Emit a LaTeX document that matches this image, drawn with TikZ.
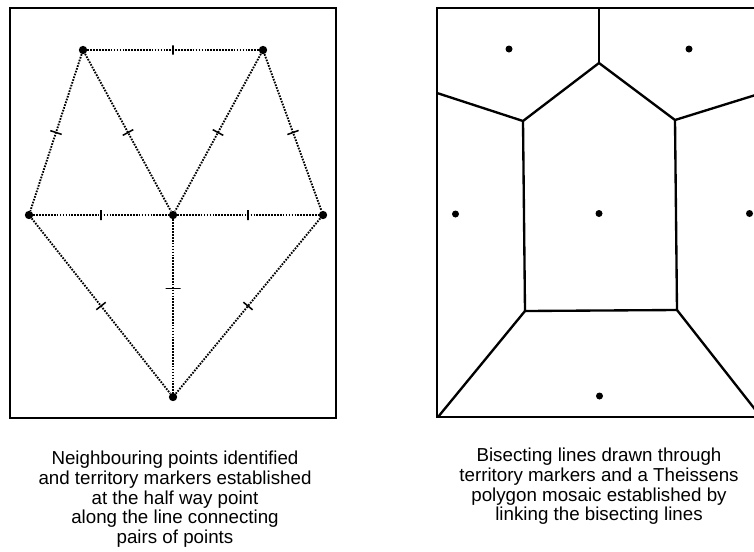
\documentclass[tikz,border=0pt]{standalone}
\usepackage{fontspec}
\setmainfont{Liberation Sans}

\begin{document}
\begin{tikzpicture}[
  x=0.03cm, y=-0.03cm,
  frame/.style={draw, line width=1.4pt},
  pt/.style={circle, fill, inner sep=0pt, minimum size=0.25cm},
  spot/.style={circle, fill, inner sep=0pt, minimum size=0.21cm},
  link/.style={line width=1.6pt, dash pattern=on 1.4pt off 1.1pt},
  tick/.style={sloped, draw, solid, line width=1.3pt, inner sep=0pt, minimum width=0pt, minimum height=0.36cm},
  cell/.style={line width=2pt, line join=round},
  caption/.style={align=center, anchor=north, inner sep=0pt, font=\fontsize{16}{16.8}\selectfont}
]
\clip (0,0) rectangle (754,551);

% left panel: neighbours and territory markers
\draw[frame] (10,8) rectangle (336,418);
\node[pt] (tl) at (83,50) {};
\node[pt] (tr) at (263,50) {};
\node[pt] (ml) at (29,215) {};
\node[pt] (mc) at (173,215) {};
\node[pt] (mr) at (323,215) {};
\node[pt] (bot) at (173,397) {};

\draw[link] (tl) -- node[tick, minimum height=0.28cm] {} (tr);
\draw[link] (tl) -- node[tick] {} (ml);
\draw[link] (tl) -- node[tick] {} (mc);
\draw[link] (tr) -- node[tick] {} (mc);
\draw[link] (tr) -- node[tick] {} (mr);
\draw[link] (ml) -- node[tick, minimum height=0.3cm] {} (mc);
\draw[link] (mc) -- node[tick, minimum height=0.3cm] {} (mr);
\draw[link] (mc) -- node[tick, pos=0.4, minimum height=0.45cm] {} (bot);
\draw[link] (ml) -- node[tick] {} (bot);
\draw[link] (mr) -- node[tick] {} (bot);

\node[caption] (capl) at (175,451) {Neighbouring points identified\\and territory markers established\\at the half way point\\along the line connecting\\pairs of points};

% right panel: Theissens polygon mosaic
\draw[frame] (437,8) rectangle (762,417);
\node[spot] (qtl) at (509,49) {};
\node[spot] (qtr) at (689,49) {};
\node[spot] (qml) at (455.5,214) {};
\node[spot] (qmc) at (599,213.5) {};
\node[spot] (qmr) at (749.5,213.5) {};
\node[spot] (qbot) at (599.5,396) {};

\coordinate (vtop) at (599,8);
\coordinate (vapex) at (599,63);
\coordinate (vwl) at (437,93);
\coordinate (vul) at (523,121);
\coordinate (vur) at (675,120);
\coordinate (vwr) at (762,93);
\coordinate (vll) at (525,311);
\coordinate (vlr) at (677,310);
\coordinate (vbl) at (438,417);
\coordinate (vbr) at (761,417);

\draw[cell] (vtop) -- (vapex);
\draw[cell] (vwl) -- (vul) -- (vapex) -- (vur) -- (vwr);
\draw[cell] (vul) -- (vll) -- (vlr) -- (vur);
\draw[cell] (vbl) -- (vll);
\draw[cell] (vlr) -- (vbr);

\node[caption] (capr) at (599,448) {Bisecting lines drawn through\\territory markers and a Theissens\\polygon mosaic established by\\linking the bisecting lines};
\end{tikzpicture}
\end{document}
